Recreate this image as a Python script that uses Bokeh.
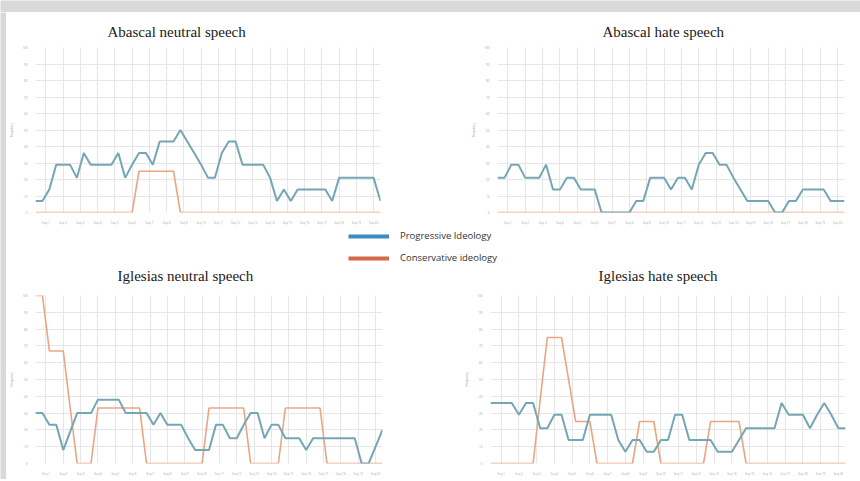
from bokeh.plotting import figure
from bokeh.layouts import column, row
from bokeh.models import Range1d, FixedTicker, Title, Label, Legend, LegendItem
from bokeh.embed import file_html
from bokeh.resources import INLINE

# ---- data ----
idx = list(range(51))

x_ticks = [1.5, 4, 6.5, 9, 11.5, 14, 16.5, 19, 21.5, 24, 26.5, 29, 31.5, 34, 36.5, 39, 41.5, 44, 46.5, 49]
x_labels = ["Seq 1", "Seq 2", "Seq 3", "Seq 4", "Seq 5", "Seq 6", "Seq 7", "Seq 8", "Seq 9", "Seq 10",
            "Seq 11", "Seq 12", "Seq 13", "Seq 14", "Seq 15", "Seq 16", "Seq 17", "Seq 18", "Seq 19", "Seq 20"]
y_ticks = [0, 10, 20, 30, 40, 50, 60, 70, 80, 90, 100]

abascal_neutral_prog = [7, 7, 14, 29, 29, 29, 21, 36, 29, 29, 29, 29, 36, 21, 29, 36, 36, 29, 43, 43,
                        43, 50, 43, 36, 29, 21, 21, 36, 43, 43, 29, 29, 29, 29, 21, 7, 14, 7, 14, 14,
                        14, 14, 14, 7, 21, 21, 21, 21, 21, 21, 7]
abascal_neutral_cons = [0, 0, 0, 0, 0, 0, 0, 0, 0, 0, 0, 0, 0, 0, 0, 25, 25, 25, 25, 25,
                        25, 0, 0, 0, 0, 0, 0, 0, 0, 0, 0, 0, 0, 0, 0, 0, 0, 0, 0, 0,
                        0, 0, 0, 0, 0, 0, 0, 0, 0, 0, 0]

abascal_hate_prog = [21, 21, 29, 29, 21, 21, 21, 29, 14, 14, 21, 21, 14, 14, 14, 0, 0, 0, 0, 0,
                     7, 7, 21, 21, 21, 14, 21, 21, 14, 29, 36, 36, 29, 29, 21, 14, 7, 7, 7, 7,
                     0, 0, 7, 7, 14, 14, 14, 14, 7, 7, 7]
abascal_hate_cons = [0, 0, 0, 0, 0, 0, 0, 0, 0, 0, 0, 0, 0, 0, 0, 0, 0, 0, 0, 0,
                     0, 0, 0, 0, 0, 0, 0, 0, 0, 0, 0, 0, 0, 0, 0, 0, 0, 0, 0, 0,
                     0, 0, 0, 0, 0, 0, 0, 0, 0, 0, 0]

iglesias_neutral_prog = [30, 30, 23, 23, 8, 19, 30, 30, 30, 38, 38, 38, 38, 30, 30, 30, 30, 23, 30, 23,
                         23, 23, 15, 8, 8, 8, 23, 23, 15, 15, 23, 30, 30, 15, 23, 23, 15, 15, 15, 8,
                         15, 15, 15, 15, 15, 15, 15, 0, 0, 10, 20]
iglesias_neutral_cons = [100, 100, 67, 67, 67, 33, 0, 0, 0, 33, 33, 33, 33, 33, 33, 33, 0, 0, 0, 0,
                         0, 0, 0, 0, 0, 33, 33, 33, 33, 33, 33, 0, 0, 0, 0, 0, 33, 33, 33, 33,
                         33, 33, 0, 0, 0, 0, 0, 0, 0, 0, 0]

iglesias_hate_prog = [36, 36, 36, 36, 29, 36, 36, 21, 21, 29, 29, 14, 14, 14, 29, 29, 29, 29, 14, 7,
                      14, 14, 7, 7, 14, 14, 29, 29, 14, 14, 14, 14, 7, 7, 7, 14, 21, 21, 21, 21,
                      21, 36, 29, 29, 29, 21, 29, 36, 29, 21, 21]
iglesias_hate_cons = [0, 0, 0, 0, 0, 0, 0, 38, 75, 75, 75, 50, 25, 25, 25, 0, 0, 0, 0, 0,
                      0, 25, 25, 25, 0, 0, 0, 0, 0, 0, 0, 25, 25, 25, 25, 25, 0, 0, 0, 0,
                      0, 0, 0, 0, 0, 0, 0, 0, 0, 0, 0]

titles = ["Abascal neutral speech", "Abascal hate speech", "Iglesias neutral speech", "Iglesias hate speech"]
legend_labels = ["Progressive Ideology", "Conservative ideology"]

PROG_LINE = "#74a6b6"
CONS_LINE = "#eba585"
PROG_LEG = "#3a8dc0"
CONS_LEG = "#d4694a"
GRID = "#e6e6e6"
TICK_TXT = "#a8a8a8"
PAGE_GRAY = "#d9d9d9"
TITLE_FONT = "Liberation Serif"


def panel(prog, cons, fw, fh, bl, br, bt, bb):
    p = figure(frame_width=fw, frame_height=fh, output_backend="svg", toolbar_location=None,
               x_range=Range1d(0, 50), y_range=Range1d(0, 100),
               min_border_left=bl, min_border_right=br, min_border_top=bt, min_border_bottom=bb,
               background_fill_color="white", border_fill_color="white", outline_line_color=None)
    p.xaxis.ticker = FixedTicker(ticks=x_ticks)
    p.xaxis.major_label_overrides = {t_: l for t_, l in zip(x_ticks, x_labels)}
    p.yaxis.ticker = FixedTicker(ticks=y_ticks)
    p.yaxis.axis_label = "Frequency"
    for ax in (p.xaxis[0], p.yaxis[0]):
        ax.axis_line_color = None
        ax.major_tick_line_color = None
        ax.minor_tick_line_color = None
        ax.major_label_text_font = "Open Sans"
        ax.major_label_text_font_size = "3px"
        ax.major_label_text_color = TICK_TXT
        ax.major_label_standoff = 2
    p.yaxis.axis_label_text_font = "Open Sans"
    p.yaxis.axis_label_text_font_size = "3px"
    p.yaxis.axis_label_text_font_style = "normal"
    p.yaxis.axis_label_text_color = "#999999"
    p.yaxis.axis_label_standoff = 5
    p.xgrid.ticker = FixedTicker(ticks=x_ticks)
    p.ygrid.ticker = FixedTicker(ticks=y_ticks)
    p.xgrid.grid_line_color = GRID
    p.ygrid.grid_line_color = GRID
    p.line(idx, cons, line_color=CONS_LINE, line_width=1.6)
    p.line(idx, prog, line_color=PROG_LINE, line_width=2)
    return p


def add_title(p, text, off):
    p.add_layout(Title(text=text, align="left", offset=off, standoff=15,
                       text_font=TITLE_FONT, text_font_size="15px",
                       text_font_style="normal", text_color="#1a1a1a"), "above")


def add_title_label(p, text, x, y):
    p.add_layout(Label(x=x, y=y, x_units="screen", y_units="screen", text=text,
                       text_align="left", text_baseline="middle",
                       text_font=TITLE_FONT, text_font_size="15px",
                       text_font_style="normal", text_color="#1a1a1a"))


def strip(w, h):
    s = figure(frame_width=w, frame_height=h, output_backend="svg", toolbar_location=None,
               min_border_left=0, min_border_right=0, min_border_top=0, min_border_bottom=0,
               x_axis_location=None, y_axis_location=None, outline_line_color=None,
               background_fill_color=PAGE_GRAY, border_fill_color=PAGE_GRAY)
    s.grid.visible = False
    return s


tl = panel(abascal_neutral_prog, abascal_neutral_cons, 345, 165, 29, 50, 35, 14)
tr = panel(abascal_hate_prog, abascal_hate_cons, 347, 165, 67, 16, 35, 14)
bl = panel(iglesias_neutral_prog, iglesias_neutral_cons, 347, 168, 29, 48, 4, 17)
br = panel(iglesias_hate_prog, iglesias_hate_cons, 355, 168, 60, 15, 4, 17)
add_title(tl, titles[0], 72)
add_title(tr, titles[1], 105)

# middle band: legend plus the titles of the lower row
lf = figure(frame_width=854, frame_height=64, output_backend="svg", toolbar_location=None,
            x_range=Range1d(0, 1), y_range=Range1d(0, 1),
            min_border_left=0, min_border_right=0, min_border_top=0, min_border_bottom=0,
            outline_line_color=None, x_axis_location=None, y_axis_location=None)
lf.grid.visible = False
r1 = lf.line(x=[-10, -9], y=[-10, -9], line_color=PROG_LEG, line_width=4)
r2 = lf.line(x=[-10, -9], y=[-10, -9], line_color=CONS_LEG, line_width=4)
leg = Legend(items=[LegendItem(label=legend_labels[0], renderers=[r1]),
                    LegendItem(label=legend_labels[1], renderers=[r2])],
             location=(342, 27), orientation="vertical",
             border_line_color=None, background_fill_alpha=0,
             padding=0, margin=0, spacing=9, glyph_width=41, glyph_height=12,
             label_height=12, label_standoff=11,
             label_text_font="Open Sans", label_text_font_size="9.5px", label_text_color="#333333")
lf.add_layout(leg, "center")
add_title_label(lf, titles[2], 111, 15.5)
add_title_label(lf, titles[3], 592, 15.5)

top_strip = strip(860, 12)
left_strip = strip(6, 467)

content = column(row(tl, tr, spacing=0), lf, row(bl, br, spacing=0), spacing=0)
layout = column(top_strip, row(left_strip, content, spacing=0), spacing=0)

open("out.html", "w").write(file_html(layout, INLINE))
